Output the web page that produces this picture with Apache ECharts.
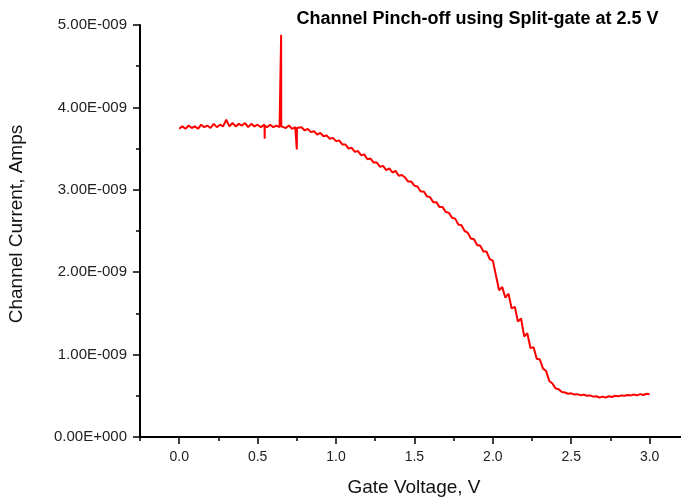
<!DOCTYPE html>
<html>
<head>
<meta charset="utf-8">
<script src="https://cdn.jsdelivr.net/npm/echarts@6/dist/echarts.min.js"></script>
<style>html,body{margin:0;padding:0;background:#fff;}#c{width:681px;height:499px;}</style>
</head>
<body>
<div id="c"></div>
<script>
// Gate voltage samples (V)
const gateVoltage = [
0.00,0.02,0.04,0.06,0.08,0.10,0.12,0.14,0.16,0.18,
0.20,0.22,0.24,0.26,0.28,0.30,0.32,0.34,0.36,0.38,
0.40,0.42,0.44,0.46,0.48,0.50,0.52,0.544,0.545,0.546,
0.56,0.58,0.60,0.62,0.64,0.649,0.650,0.651,0.66,0.68,
0.70,0.72,0.74,0.749,0.750,0.751,0.76,0.78,0.80,0.82,
0.84,0.86,0.88,0.90,0.92,0.94,0.96,0.98,1.00,1.02,
1.04,1.06,1.08,1.10,1.12,1.14,1.16,1.18,1.20,1.22,
1.24,1.26,1.28,1.30,1.32,1.34,1.36,1.38,1.40,1.42,
1.44,1.46,1.48,1.50,1.52,1.54,1.56,1.58,1.60,1.62,
1.64,1.66,1.68,1.70,1.72,1.74,1.76,1.78,1.80,1.82,
1.84,1.86,1.88,1.90,1.92,1.94,1.96,1.98,2.00,2.02,
2.04,2.06,2.08,2.10,2.12,2.14,2.16,2.18,2.20,2.22,
2.24,2.26,2.28,2.30,2.32,2.34,2.36,2.38,2.40,2.42,
2.44,2.46,2.48,2.50,2.52,2.54,2.56,2.58,2.60,2.62,
2.64,2.66,2.68,2.70,2.72,2.74,2.76,2.78,2.80,2.82,
2.84,2.86,2.88,2.90,2.92,2.94,2.96,2.98,3.00
];
// Channel current in units of 1E-009 A
const channelCurrent = [
3.74,3.77,3.74,3.78,3.75,3.77,3.74,3.79,3.76,3.78,
3.75,3.80,3.76,3.79,3.77,3.85,3.77,3.81,3.77,3.80,
3.78,3.81,3.76,3.80,3.77,3.79,3.76,3.79,3.62,3.78,
3.76,3.79,3.76,3.78,3.76,3.78,4.88,3.77,3.78,3.75,
3.78,3.74,3.76,3.75,3.49,3.75,3.73,3.76,3.72,3.74,
3.70,3.71,3.67,3.69,3.65,3.66,3.62,3.63,3.59,3.60,
3.55,3.55,3.50,3.51,3.46,3.47,3.42,3.43,3.37,3.38,
3.33,3.33,3.28,3.29,3.24,3.26,3.21,3.23,3.17,3.18,
3.15,3.10,3.10,3.05,3.04,2.98,2.98,2.92,2.91,2.85,
2.85,2.79,2.79,2.73,2.72,2.66,2.65,2.58,2.57,2.50,
2.48,2.41,2.40,2.33,2.32,2.25,2.25,2.16,2.14,1.96,
1.78,1.82,1.69,1.74,1.56,1.58,1.40,1.44,1.22,1.26,
1.08,1.09,0.95,0.94,0.83,0.80,0.68,0.65,0.59,0.58,
0.545,0.54,0.525,0.53,0.515,0.52,0.505,0.515,0.50,0.505,
0.49,0.495,0.48,0.49,0.48,0.495,0.485,0.50,0.495,0.505,
0.50,0.51,0.505,0.515,0.505,0.52,0.51,0.525,0.52
];
const xMajorTicks = [0.0,0.5,1.0,1.5,2.0,2.5,3.0];
const xMinorTicks = [-0.25,0.25,0.75,1.25,1.75,2.25,2.75];

const titleText = 'Channel Pinch-off using Split-gate at 2.5 V';
const xName = 'Gate Voltage, V';
const yName = 'Channel Current, Amps';

function sci(v){
  if (Math.abs(v) < 1e-12) return '0.00E+000';
  const a = v * 1e-9;
  const e = Math.floor(Math.log10(Math.abs(a)) + 1e-9);
  const m = a / Math.pow(10, e);
  return m.toFixed(2) + 'E' + (e < 0 ? '-' : '+') + String(Math.abs(e)).padStart(3, '0');
}

const chart = echarts.init(document.getElementById('c'), null, {renderer:'canvas'});
const font = 'Liberation Sans, Arial, sans-serif';
const axisColor = '#000';
chart.setOption({
  animation: false,
  backgroundColor: '#fff',
  grid: {left: 140, right: 0, top: 25, bottom: 62, containLabel: false},
  xAxis: [{
    type: 'value', min: -0.25, max: 3.2, position: 'bottom',
    axisLine: {show: true, onZero: false, lineStyle: {color: axisColor, width: 2}},
    axisTick: {show: true, inside: false, length: 7, customValues: xMajorTicks, lineStyle: {color: axisColor, width: 1.5}},
    axisLabel: {show: true, customValues: xMajorTicks, margin: 13, color: '#222', fontFamily: font, fontSize: 14,
      formatter: v => v.toFixed(1)},
    splitLine: {show: false}
  }, {
    type: 'value', min: -0.25, max: 3.2, position: 'bottom',
    axisLine: {show: false, onZero: false},
    axisTick: {show: true, inside: false, length: 4, customValues: xMinorTicks, lineStyle: {color: axisColor, width: 1.5}},
    axisLabel: {show: false},
    splitLine: {show: false}
  }],
  yAxis: {
    type: 'value', min: 0, max: 5, interval: 1,
    axisLine: {show: true, onZero: false, lineStyle: {color: axisColor, width: 2}},
    axisTick: {show: true, inside: false, length: 7, lineStyle: {color: axisColor, width: 1.5}},
    minorTick: {show: true, splitNumber: 2, length: 4, lineStyle: {color: axisColor, width: 1.5}},
    axisLabel: {margin: 13, color: '#222', fontFamily: font, fontSize: 15, formatter: v => sci(v)},
    splitLine: {show: false}
  },
  series: [{
    type: 'line', xAxisIndex: 0, showSymbol: false, symbol: 'none',
    lineStyle: {color: '#ff0000', width: 2},
    data: gateVoltage.map((x, i) => [x, channelCurrent[i]]),
    z: 5
  }],
  graphic: [
    {type: 'text', x: 296.5, y: 19, style: {text: titleText, fill: '#000', font: 'bold 18px ' + font, textVerticalAlign: 'middle', textAlign: 'left'}},
    {type: 'text', x: 414, y: 488, style: {text: xName, fill: '#111', font: '19px ' + font, textVerticalAlign: 'middle', textAlign: 'center'}},
    {type: 'text', x: 17, y: 224, rotation: Math.PI / 2, style: {text: yName, fill: '#111', font: '19px ' + font, textVerticalAlign: 'middle', textAlign: 'center'}}
  ]
});
</script>
</body>
</html>
